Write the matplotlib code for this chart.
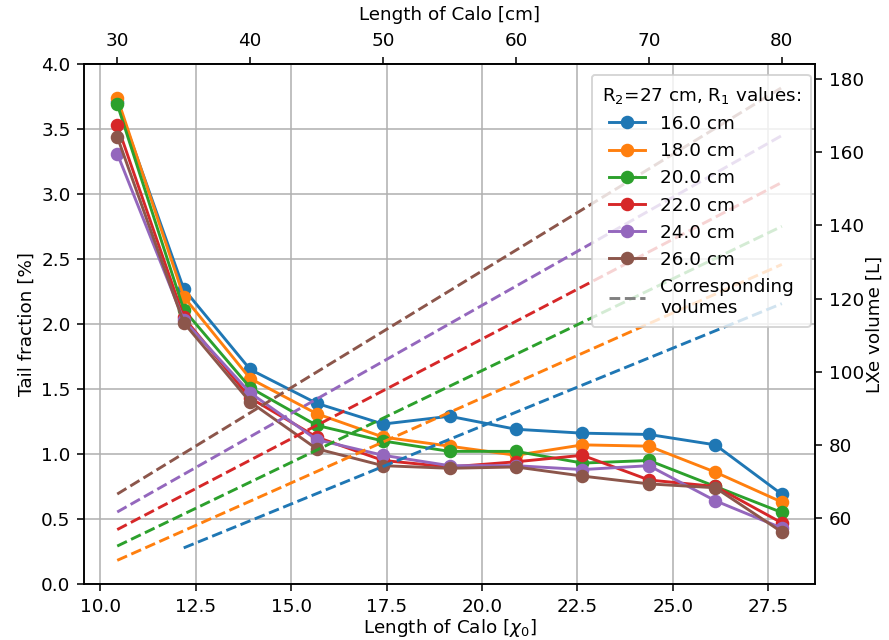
import numpy as np
import matplotlib
matplotlib.use('Agg')
import matplotlib.pyplot as plt
from matplotlib.lines import Line2D

# radiation length of LXe [cm]
X0 = 2.872

lengths_cm = [30, 35, 40, 45, 50, 55, 60, 65, 70, 75, 80]
top_ticks_cm = [30, 40, 50, 60, 70, 80]
r1_values = [16.0, 18.0, 20.0, 22.0, 24.0, 26.0]
colors = ['tab:blue', 'tab:orange', 'tab:green', 'tab:red', 'tab:purple', 'tab:brown']

# tail fraction [%] per R1
tail_16 = [3.71, 2.27, 1.65, 1.39, 1.23, 1.29, 1.19, 1.16, 1.15, 1.07, 0.69]
tail_18 = [3.74, 2.21, 1.58, 1.31, 1.13, 1.06, 0.99, 1.07, 1.06, 0.86, 0.63]
tail_20 = [3.69, 2.11, 1.51, 1.22, 1.10, 1.02, 1.02, 0.93, 0.95, 0.75, 0.55]
tail_22 = [3.53, 2.05, 1.43, 1.13, 0.95, 0.90, 0.94, 0.99, 0.80, 0.75, 0.47]
tail_24 = [3.31, 2.03, 1.47, 1.11, 0.99, 0.91, 0.91, 0.88, 0.91, 0.64, 0.43]
tail_26 = [3.44, 2.01, 1.40, 1.04, 0.91, 0.89, 0.90, 0.83, 0.77, 0.74, 0.40]
tails = [tail_16, tail_18, tail_20, tail_22, tail_24, tail_26]

# LXe volume [L] at the ends of each dashed line
vol_len_16 = [35, 80]
vol_16 = [51.9, 118.6]
vol_len_other = [30, 80]
vol_18 = [48.5, 129.3]
vol_20 = [52.4, 139.7]
vol_22 = [56.9, 151.7]
vol_24 = [61.7, 164.5]
vol_26 = [66.6, 177.6]
vol_lens = [vol_len_16] + [vol_len_other] * 5
vols = [vol_16, vol_18, vol_20, vol_22, vol_24, vol_26]


def to_x0(cm):
    return np.asarray(cm, dtype=float) / X0


plt.rcParams['font.size'] = 9.5

fig, ax = plt.subplots(figsize=(6.396, 4.605), dpi=139)
fig.subplots_adjust(left=0.0945, right=0.9168, bottom=0.0875, top=0.9)

ax2 = ax.twinx()

handles = []
for r1, col, tail in zip(r1_values, colors, tails):
    h, = ax.plot(to_x0(lengths_cm), tail, marker='o', color=col, label=f'{r1:.1f} cm')
    handles.append(h)

for col, vl, v in zip(colors, vol_lens, vols):
    ax2.plot(to_x0(vl), v, '--', color=col)

ax.set_ylim(0, 4.0)
ax.grid(True)
ax.set_xlabel(r'Length of Calo [$\chi_0$]', labelpad=0.5)
ax.set_ylabel('Tail fraction [%]', labelpad=3.0)
ax2.set_ylabel('LXe volume [L]', labelpad=1.0)

top = ax.secondary_xaxis('top', functions=(lambda x: x * X0, lambda x: x / X0))
top.set_xticks(top_ticks_cm)
top.set_xlabel('Length of Calo [cm]', labelpad=6.5)

handles.append(Line2D([], [], ls='--', color='gray', label='Corresponding\nvolumes'))
ax2.legend(handles=handles, loc='upper right', bbox_to_anchor=(1.007, 0.997),
           title=r'R$_2$=27 cm, R$_1$ values:', borderpad=0.55)

fig.savefig('out.png', dpi=139)
